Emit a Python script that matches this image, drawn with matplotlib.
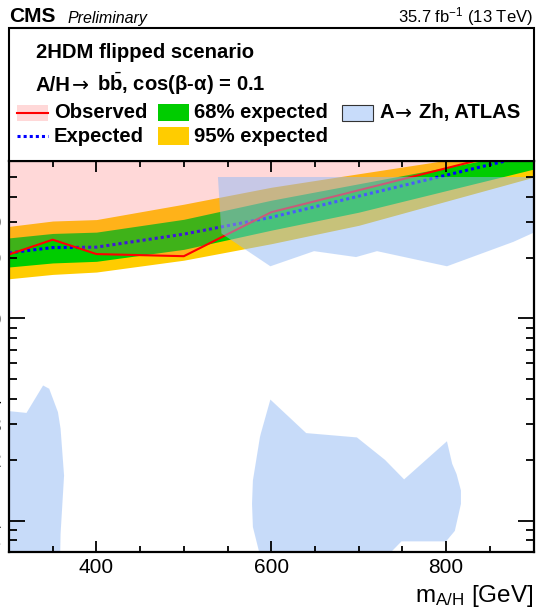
import matplotlib
matplotlib.use("Agg")
import matplotlib.pyplot as plt
from matplotlib.patches import Rectangle, Polygon
from matplotlib.lines import Line2D
from matplotlib.ticker import FixedLocator, FixedFormatter, NullFormatter

plt.rcParams['font.family'] = ['Liberation Sans', 'DejaVu Sans']
plt.rcParams['mathtext.fontset'] = 'custom'
plt.rcParams['mathtext.rm'] = 'Liberation Sans'
plt.rcParams['mathtext.bf'] = 'Liberation Sans:bold'
plt.rcParams['mathtext.it'] = 'Liberation Sans:italic'

# ---- limits on tan(beta) vs m_A/H ----
mass = [300, 350, 400, 500, 600, 700, 900]
observed = [20.7, 24.5, 20.8, 20.3, 33.5, 43.0, 71.0]
expected = [21.1, 22.4, 22.5, 26.1, 31.6, 40.2, 64.8]
exp68_lo = [17.95, 18.8, 19.15, 21.95, 27.3, 33.5, 54.7]
exp68_hi = [25.0, 26.3, 26.7, 30.9, 38.4, 46.3, 67.1]
exp95_lo = [15.7, 16.5, 16.95, 19.4, 23.4, 28.85, 49.9]
exp95_hi = [28.5, 30.3, 30.8, 36.7, 44.5, 51.9, 70.5]

# ---- ATLAS A->Zh excluded contours ----
atlas_hi_m = [539, 920, 920, 877, 801, 721, 697, 649, 599, 543]
atlas_hi_tb = [50, 50, 29.0, 23.9, 18.1, 21.5, 20.1, 21.5, 18.1, 26.3]
atlas_lo1_m = [280, 300, 320, 339, 346, 356, 359, 363, 359, 358, 280]
atlas_lo1_tb = [3.48, 3.48, 3.41, 4.66, 4.49, 3.44, 2.85, 1.67, 0.86, 0.5, 0.5]
atlas_lo2_m = [599, 640, 698, 730, 752, 801, 807, 812, 817, 817, 810, 800,
               749, 722, 590, 579, 578, 579, 587, 588]
atlas_lo2_tb = [3.97, 2.71, 2.58, 2.00, 1.60, 2.47, 1.91, 1.70, 1.41, 1.21,
                0.89, 0.79, 0.79, 0.6, 0.6, 0.93, 1.21, 1.58, 2.58, 2.69]

xticks_major = [400, 600, 800]
xticks_minor = [350, 450, 500, 550, 650, 700, 750, 850]
yticks_major = [1, 10]
yticks_minor = [0.8, 0.9, 2, 3, 4, 5, 6, 7, 8, 9, 20, 30, 40, 50]
ylabels_minor = ['0.8', '', '2', '3', '4', '', '', '', '', '', '20', '30', '40', '']

W, H = 536, 611
fig = plt.figure(figsize=(W / 100, H / 100), dpi=100)


def fx(x):
    return x / W


def fy(y):
    return 1 - y / H


ax = fig.add_axes([fx(9), fy(552), fx(533.5) - fx(9), fy(161) - fy(552)])
ax.set_xscale('linear')
ax.set_yscale('log')
ax.set_xlim(300, 900)
ax.set_ylim(0.7, 60)

GREEN = '#00cc00'
YELLOW = '#ffcc00'
BLUE_LINE = '#0000ff'
OBS_FILL = (1.0, 0.4, 0.4)
ATLAS = (0.57, 0.725, 0.96)

ax.fill_between(mass, exp95_lo, exp95_hi, color=YELLOW, lw=0, zorder=1)
ax.fill_between(mass, exp68_lo, exp68_hi, color=GREEN, lw=0, zorder=1.1)
ax.plot(mass, expected, color=BLUE_LINE, lw=2.2, ls=(0, (1, 1)), zorder=1.2)
ax.fill_between(mass, observed, [1000] * len(mass), color=OBS_FILL, alpha=0.25,
                lw=0, zorder=1.3)
ax.plot(mass, observed, color='#ff0000', lw=1.5, zorder=1.4)
for mm, tb in [(atlas_hi_m, atlas_hi_tb), (atlas_lo1_m, atlas_lo1_tb),
               (atlas_lo2_m, atlas_lo2_tb)]:
    ax.add_patch(Polygon(list(zip(mm, tb)), closed=True, facecolor=ATLAS,
                         edgecolor='none', alpha=0.5, zorder=1.5))

for s in ax.spines.values():
    s.set_linewidth(1.6)

ax.xaxis.set_major_locator(FixedLocator(xticks_major))
ax.xaxis.set_minor_locator(FixedLocator(xticks_minor))
ax.yaxis.set_major_locator(FixedLocator(yticks_major))
ax.yaxis.set_minor_locator(FixedLocator(yticks_minor))
ax.yaxis.set_major_formatter(FixedFormatter(['1', '10']))
ax.yaxis.set_minor_formatter(FixedFormatter(ylabels_minor))
ax.xaxis.set_minor_formatter(NullFormatter())

ax.tick_params(axis='x', which='both', direction='in', top=True, bottom=True,
               labelsize=15, pad=4, width=1.3)
ax.tick_params(axis='x', which='major', length=8)
ax.tick_params(axis='x', which='minor', length=4)
ax.tick_params(axis='y', which='both', direction='in', left=True, right=True,
               labelsize=15, pad=5.5, width=1.3)
ax.tick_params(axis='y', which='major', length=11.5)
ax.tick_params(axis='y', which='minor', length=5.5)

# axis title
fig.text(fx(533), fy(602), r'm$_{\mathrm{A/H}}$ [GeV]', ha='right',
         va='baseline', fontsize=17.5)

# header above the frame
fig.text(fx(9), fy(22.5), 'CMS', ha='left', va='baseline', fontsize=15,
         fontweight='bold')
fig.text(fx(68), fy(22.5), 'Preliminary', ha='left', va='baseline',
         fontsize=11.5, style='italic')
fig.text(fx(533), fy(22.5), r'35.7 fb$^{\mathregular{-1}}$ (13 TeV)',
         ha='right', va='baseline', fontsize=12)

# legend panel
fig.patches.append(Rectangle((fx(9), fy(161)), fx(533.5) - fx(9),
                             fy(28) - fy(161), transform=fig.transFigure,
                             facecolor='white', edgecolor='black', lw=1.5,
                             zorder=3))

LFS = 14.6


def label(x, y, s, family=None, weight='bold', z=5):
    kw = dict(ha='left', va='baseline', fontsize=LFS, fontweight=weight,
              zorder=z)
    if family is not None:
        kw['family'] = family
    fig.text(fx(x), fy(y), s, **kw)


label(36, 58.3, '2HDM flipped scenario')
label(36, 90.7, 'A/H')
label(72, 90.7, '→', family='DejaVu Sans', weight='normal')
label(97, 90.7, r'b$\bar{\mathbf{b}}$, cos(β-α) = 0.1')


def box(x0, y0, x1, y1, fc, ec='none', lw=0.0, alpha=1.0):
    fig.patches.append(Rectangle((fx(x0), fy(y1)), fx(x1) - fx(x0),
                                 fy(y0) - fy(y1), transform=fig.transFigure,
                                 facecolor=fc, edgecolor=ec, lw=lw,
                                 alpha=alpha, zorder=4))


box(17, 105, 48, 121, OBS_FILL, alpha=0.25)
fig.lines.append(Line2D([fx(17), fx(48)], [fy(113), fy(113)],
                        transform=fig.transFigure, color='#ff0000', lw=1.5,
                        zorder=5))
box(158, 104, 189, 121, GREEN)
box(342, 105, 373, 121, (0.785, 0.862, 0.98), ec='#333333', lw=0.8)
fig.lines.append(Line2D([fx(17), fx(48)], [fy(136), fy(136)],
                        transform=fig.transFigure, color=BLUE_LINE, lw=2.2,
                        ls=(0, (1, 1)), zorder=5))
box(158, 127.5, 189, 145, YELLOW)

label(54, 118.3, 'Observed')
label(194, 118.3, '68% expected')
label(379, 118.3, 'A')
label(395, 118.3, '→', family='DejaVu Sans', weight='normal')
label(419, 118.3, 'Zh, ATLAS')
label(54, 141.7, 'Expected')
label(194, 141.7, '95% expected')

fig.savefig('out.png', dpi=100)
